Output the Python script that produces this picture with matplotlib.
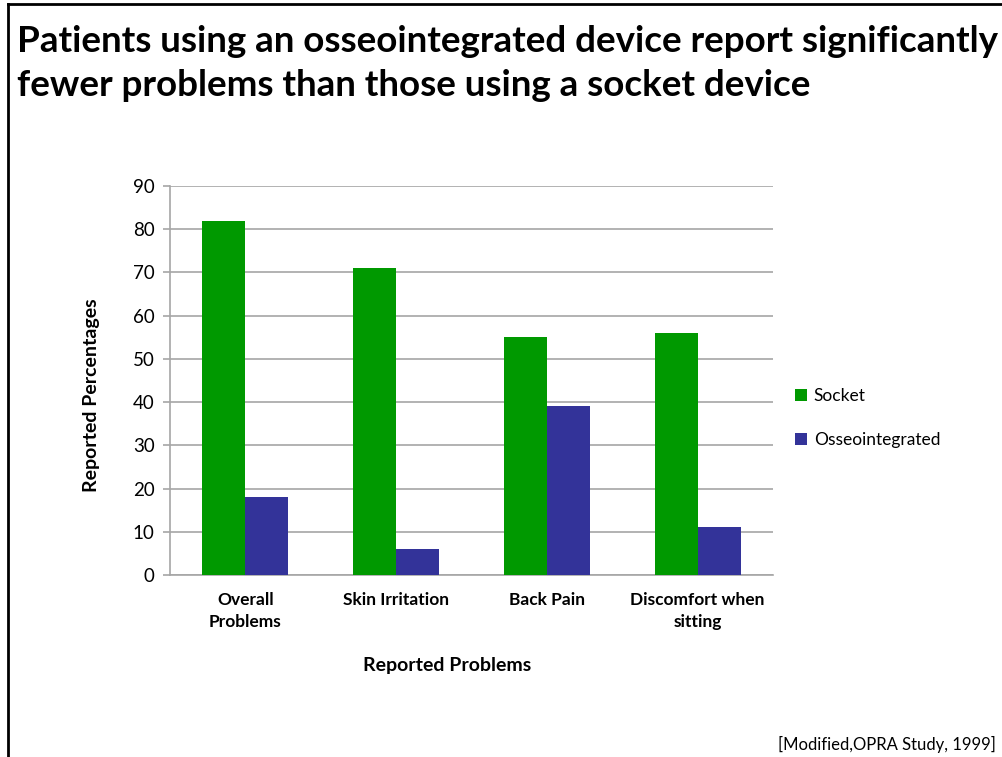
import matplotlib
matplotlib.use("Agg")
import matplotlib.pyplot as plt
import numpy as np
from matplotlib.lines import Line2D
from matplotlib.patches import Patch

plt.rcParams['font.family'] = ['Lato', 'DejaVu Sans']

# data
categories = ["Overall\nProblems", "Skin Irritation", "Back Pain", "Discomfort when\nsitting"]
socket = [82, 71, 55, 56]
osseo = [18, 6, 39, 11]
series_names = ["Socket", "Osseointegrated"]
yticks = [0, 10, 20, 30, 40, 50, 60, 70, 80, 90]

green = "#009900"
blue = "#333399"
grid_col = "#a6a6a6"

W, H = 1003, 757
fig = plt.figure(figsize=(W / 100, H / 100), dpi=100)

# slide border (cropped at right and bottom)
fig.add_artist(Line2D([8 / W, 8 / W], [0, 1 - 4 / H], color="black", lw=2, transform=fig.transFigure))
fig.add_artist(Line2D([8 / W, 1.0], [1 - 4 / H, 1 - 4 / H], color="black", lw=2, transform=fig.transFigure))

# title
fig.text(17 / W, 1 - 41 / H, "Patients using an osseointegrated device report significantly",
         fontsize=26.5, fontweight="bold", va="center", ha="left")
fig.text(17 / W, 1 - 86 / H, "fewer problems than those using a socket device",
         fontsize=26.5, fontweight="bold", va="center", ha="left")

ax = fig.add_axes([170 / W, 1 - 575 / H, 603 / W, 389 / H])

x = np.arange(len(categories))
w = 1 / 3.5
ax.bar(x - w / 2, socket, w, color=green, label=series_names[0], zorder=3)
ax.bar(x + w / 2, osseo, w, color=blue, label=series_names[1], zorder=3)

ax.set_xlim(-0.5, len(categories) - 0.5)
ax.set_ylim(0, 90)
ax.set_yticks(yticks)
ax.yaxis.grid(True, color=grid_col, lw=1.2, zorder=0)
ax.tick_params(axis="y", length=5, color=grid_col, labelsize=13.5, pad=6, width=1.2)
ax.tick_params(axis="x", length=0, labelsize=12.5, pad=12)
ax.set_xticks(x)
ax.set_xticklabels(categories, fontweight="bold", va="top", linespacing=1.5)

for s in ["top", "right"]:
    ax.spines[s].set_visible(False)
for s in ["left", "bottom"]:
    ax.spines[s].set_color(grid_col)
    ax.spines[s].set_linewidth(1.2)

ax.set_ylabel("Reported Percentages", fontsize=14, fontweight="bold")
ax.yaxis.set_label_coords(-0.116, 0.463)
ax.set_xlabel("Reported Problems", fontsize=14, fontweight="bold")
ax.xaxis.set_label_coords(0.459, -0.211)

handles = [Patch(facecolor=green, label=series_names[0]), Patch(facecolor=blue, label=series_names[1])]
fig.legend(handles=handles, loc="center left", bbox_to_anchor=(786 / W, 1 - 418 / H),
           frameon=False, fontsize=12.5, handlelength=0.7, handleheight=0.7,
           handletextpad=0.4, labelspacing=1.6, borderpad=0)

fig.text(778 / W, 1 - 744 / H, "[Modified,OPRA Study, 1999]", fontsize=12, va="center", ha="left")

fig.savefig("out.png", dpi=100)
